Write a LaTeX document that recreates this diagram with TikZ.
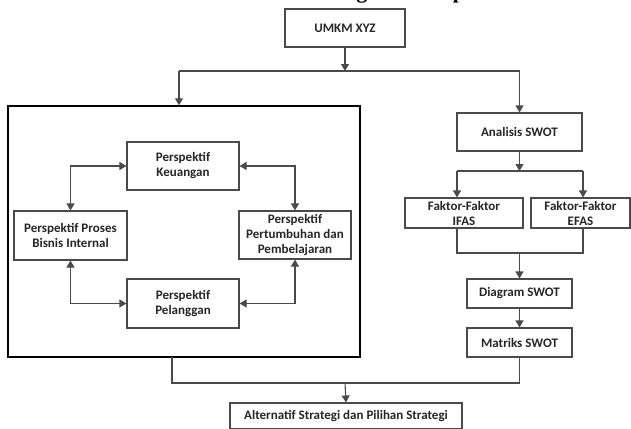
\documentclass[tikz,border=0pt]{standalone}
\usepackage{fontspec}
\setmainfont{Carlito}
\newfontfamily\titlefont{Liberation Serif}
\usetikzlibrary{arrows.meta}
\definecolor{lineg}{HTML}{4A4A4A}
\tikzset{
  box/.style={draw=lineg, line width=1.1pt, fill=white, align=center, inner sep=0pt,
    font=\fontsize{13pt}{15pt}\selectfont\bfseries, text=black!85},
  conn/.style={draw=lineg, line width=1.1pt},
  arr/.style={conn, -{Triangle[width=8pt,length=7pt]}},
  barr/.style={conn, {Triangle[width=8pt,length=7pt]}-{Triangle[width=8pt,length=7pt]}},
}
\begin{document}
\begin{tikzpicture}[x=1pt,y=-1pt]
\fill[white] (0,0) rectangle (631,428);
% heading fragment, cut by the top edge
\begin{scope}
\clip (0,0) rectangle (631,428);
\node[anchor=base west, inner sep=0pt, font=\titlefont\fontsize{21.5pt}{24pt}\selectfont\bfseries] (title) at (298,-1) {Kerangka Konseptual};
\end{scope}
% boxes
\node[draw=black, line width=1.5pt, minimum width=352pt, minimum height=251pt, inner sep=0pt] (big) at (184,231.5) {};
\node[box, minimum width=120pt, minimum height=38pt] (umkm) at (345,28) {UMKM XYZ};
\node[box, minimum width=125pt, minimum height=38pt] (anal) at (519.5,132) {Analisis SWOT};
\node[box, minimum width=118pt, minimum height=30pt] (ifas) at (464,213) {Faktor-Faktor\\IFAS};
\node[box, minimum width=99pt, minimum height=30pt] (efas) at (580.5,213) {Faktor-Faktor\\EFAS};
\node[box, minimum width=105pt, minimum height=29pt] (diag) at (519.5,293.5) {Diagram SWOT};
\node[box, minimum width=105pt, minimum height=29pt] (matr) at (519.5,342.5) {Matriks SWOT};
\node[box, minimum width=232pt, minimum height=26pt] (alt) at (346,416) {Alternatif Strategi dan Pilihan Strategi};
\node[box, minimum width=112pt, minimum height=48pt] (keu) at (183,166) {Perspektif\\Keuangan};
\node[box, minimum width=113pt, minimum height=49pt] (pros) at (70.5,235.5) {Perspektif Proses\\Bisnis Internal};
\node[box, minimum width=112pt, minimum height=48pt] (pert) at (295,235) {Perspektif\\Pertumbuhan dan\\Pembelajaran};
\node[box, minimum width=112pt, minimum height=49pt] (pel) at (183,303.5) {Perspektif\\Pelanggan};
% coordinates
\coordinate (s1) at (345,71);
\coordinate (sl) at (179,71);
\coordinate (sr) at (519.5,71);
\coordinate (a1) at (519.5,171);
\coordinate (al) at (457,171);
\coordinate (ar) at (583,171);
\coordinate (bl) at (457,253);
\coordinate (br) at (583,253);
\coordinate (bm) at (519.5,253);
\coordinate (c0) at (172,357);
\coordinate (cl) at (172,383);
\coordinate (cr) at (519.5,383);
\coordinate (cm) at (345,383);
% connectors
\draw[arr] (umkm.south) -- (s1);
\draw[conn] (sl) -- (sr);
\draw[arr] (sl) -- (sl |- big.north);
\draw[arr] (sr) -- (anal.north);
\draw[barr] (keu.west) -| (pros.north);
\draw[barr] (keu.east) -| (pert.north);
\draw[barr] (pros.south) |- (pel.west);
\draw[barr] (pert.south) |- (pel.east);
\draw[arr] (anal.south) -- (a1);
\draw[conn] (al) -- (ar);
\draw[arr] (al) -- (al |- ifas.north);
\draw[arr] (ar) -- (ar |- efas.north);
\draw[conn] (bl |- ifas.south) -- (bl) -- (br) -- (br |- efas.south);
\draw[arr] (bm) -- (diag.north);
\draw[arr] (diag.south) -- (matr.north);
\draw[conn] (c0) -- (cl) -- (cr) -- (matr.south);
\draw[arr] (cm) -- (alt.north);
\pgfresetboundingbox
\useasboundingbox (0,0) rectangle (631,428);
\end{tikzpicture}
\end{document}
